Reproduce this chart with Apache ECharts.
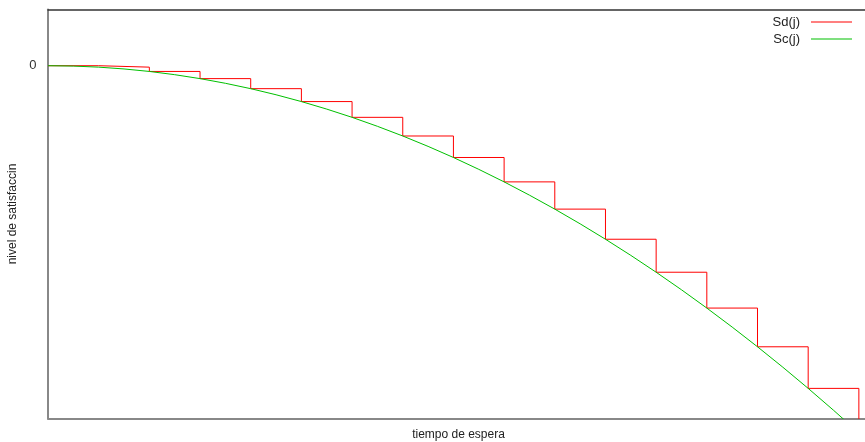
<!DOCTYPE html>
<html>
<head>
<meta charset="utf-8">
<title>Sd(j) / Sc(j)</title>
<script src="https://cdn.jsdelivr.net/npm/echarts@6/dist/echarts.min.js"></script>
<style>
  html, body { margin: 0; padding: 0; background: #fff; }
  #chart { width: 865px; height: 442px; }
</style>
</head>
<body>
<div id="chart"></div>
<script>
// Discrete satisfaction: one level per waiting slot j (held until the next slot)
const sdTimes  = [0, 1, 2, 3, 4, 5, 6, 7, 8, 9, 10, 11, 12, 13, 14, 15, 16];
const sdValues = [0, -1, -4, -9, -16, -25, -36, -49, -64, -81, -100, -121, -144, -169, -196, -225, -256];

// Continuous satisfaction curve, sampled every half slot
const scTimes  = [0, 0.5, 1, 1.5, 2, 2.5, 3, 3.5, 4, 4.5, 5, 5.5, 6, 6.5, 7, 7.5, 8,
                  8.5, 9, 9.5, 10, 10.5, 11, 11.5, 12, 12.5, 13, 13.5, 14, 14.5, 15, 15.5, 16];
const scValues = [0, -0.25, -1, -2.25, -4, -6.25, -9, -12.25, -16, -20.25, -25, -30.25, -36, -42.25, -49, -56.25, -64,
                  -72.25, -81, -90.25, -100, -110.25, -121, -132.25, -144, -156.25, -169, -182.25, -196, -210.25, -225, -240.25, -256];

// Only the zero level is labelled on the vertical axis
const yTickValues = [0];

const seriesNames = ['Sd(j)', 'Sc(j)'];

const zip = (xs, ys) => xs.map((x, i) => [x, ys[i]]);

const font = 'Liberation Sans, Arial, sans-serif';
const chart = echarts.init(document.getElementById('chart'), null, { renderer: 'canvas' });

chart.setOption({
  animation: false,
  backgroundColor: '#ffffff',
  textStyle: { fontFamily: font },
  grid: { left: 48, right: -4, top: 9.5, bottom: 23.5, containLabel: false, outerBoundsMode: 'none' },
  legend: {
    orient: 'vertical',
    right: 8,
    top: 10,
    align: 'right',
    icon: 'rect',
    itemWidth: 41,
    itemHeight: 1,
    itemGap: 3,
    selectedMode: false,
    textStyle: { fontFamily: font, fontSize: 13, color: '#222', lineHeight: 14, padding: [0, 6, 0, 0] },
    data: seriesNames
  },
  xAxis: [
    {
      type: 'value', min: 0, max: 16.2, position: 'bottom',
      name: 'tiempo de espera', nameLocation: 'middle', nameGap: 10,
      nameTextStyle: { fontFamily: font, fontSize: 12, color: '#222' },
      axisLine: { show: true, onZero: false, lineStyle: { color: '#888', width: 2 } },
      axisTick: { show: false }, axisLabel: { show: false }, splitLine: { show: false }
    },
    {
      type: 'value', min: 0, max: 16.2, position: 'top',
      axisLine: { show: true, onZero: false, lineStyle: { color: '#333', width: 1.5 } },
      axisTick: { show: false }, axisLabel: { show: false }, splitLine: { show: false }
    }
  ],
  yAxis: {
    type: 'value', min: -246, max: 39.2, position: 'left',
    name: 'nivel de satisfaccin', nameLocation: 'middle', nameGap: 29, nameRotate: 90,
    nameTextStyle: { fontFamily: font, fontSize: 12, color: '#222' },
    axisLine: { show: true, onZero: false, lineStyle: { color: '#888', width: 2 } },
    axisTick: { show: false },
    axisLabel: { show: true, customValues: yTickValues, margin: 11.5, fontSize: 13, color: '#333', fontFamily: font },
    splitLine: { show: false }
  },
  series: [
    {
      name: seriesNames[0], type: 'line', step: 'end',
      data: zip(sdTimes, sdValues),
      symbol: 'none', clip: true,
      lineStyle: { color: '#ff0000', width: 1 }, itemStyle: { color: '#ff0000' }
    },
    {
      name: seriesNames[1], type: 'line',
      data: zip(scTimes, scValues),
      symbol: 'none', clip: true,
      lineStyle: { color: '#00c000', width: 1 }, itemStyle: { color: '#00c000' }
    }
  ]
});
</script>
</body>
</html>
